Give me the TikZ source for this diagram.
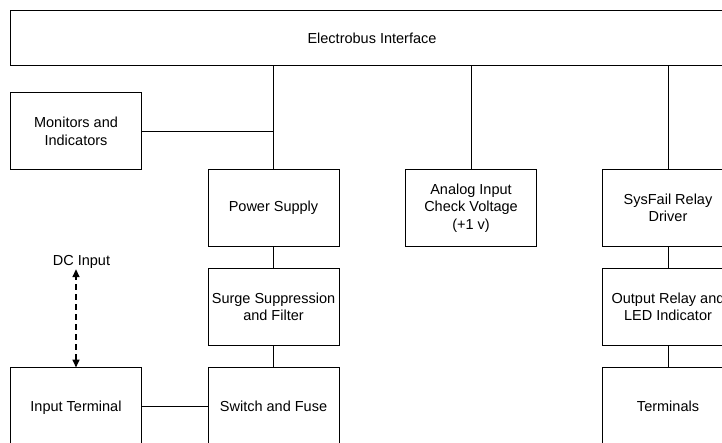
\documentclass[tikz,border=0pt]{standalone}
\usepackage{fontspec}
\setmainfont{Liberation Sans}
\usepackage{tikz}
\usetikzlibrary{arrows.meta, positioning}
\tikzset{
  blk/.style={
    rectangle, draw=black, line width=1pt,
    minimum width=131pt, minimum height=77pt,
    inner sep=2pt, outer sep=0pt,
    align=center, font=\fontsize{14.5}{17.5}\selectfont,
    fill=white,
  },
  wire/.style={line width=1pt, black},
  dcarrow/.style={{Triangle[length=8pt,width=7pt]}-{Triangle[length=8pt,width=7pt]},
    line width=1.6pt, dash pattern=on 6pt off 4pt},
}

\begin{document}
\begin{tikzpicture}[x=1pt, y=-1pt,
  busbox/.style={blk, minimum width=724pt, minimum height=54.5pt},
  node distance=22pt and 66pt,
]
  \useasboundingbox (0,0) rectangle (722,443);
  \clip (0,0) rectangle (722,443);

  % Bus
  \node[busbox] (bus) at (372,38) {Electrobus Interface};

  % Row 1
  \node[blk] (mon) at (76,131.5) {Monitors and\\Indicators};
  \node[blk] (psu) at (273.5,208) {Power Supply};
  \node[blk] (ana) at (471,208) {Analog Input\\Check Voltage\\(+1 v)};
  \node[blk] (sys) at (668,208) {SysFail Relay\\Driver};

  % Power column
  \node[blk, below=of psu] (surge) {Surge Suppression\\and Filter};
  \node[blk, below=of surge] (sw) {Switch and Fuse};
  \node[blk, text depth=0pt] (inp) at (mon |- sw) {Input Terminal};

  % Relay column
  \node[blk, below=of sys] (outr) {Output Relay and\\LED Indicator};
  \node[blk, below=of outr] (term) {Terminals};

  \node[anchor=base, inner sep=0pt, font=\fontsize{14.5}{17.5}\selectfont]
    (dcin) at (81.5,266) {DC Input};

  % Links to the bus
  \draw[wire] (psu.north) -- (psu.north |- bus.south);
  \draw[wire] (mon.east) -- (mon.east -| psu.north);
  \draw[wire] (ana.north) -- (ana.north |- bus.south);
  \draw[wire] (sys.north) -- (sys.north |- bus.south);

  % Chains
  \draw[wire] (psu) -- (surge);
  \draw[wire] (surge) -- (sw);
  \draw[wire] (inp) -- (sw);
  \draw[wire] (sys) -- (outr);
  \draw[wire] (outr) -- (term);

  \draw[dcarrow] (inp.north) -- (inp.north |- dcin.south);

\end{tikzpicture}
\end{document}
